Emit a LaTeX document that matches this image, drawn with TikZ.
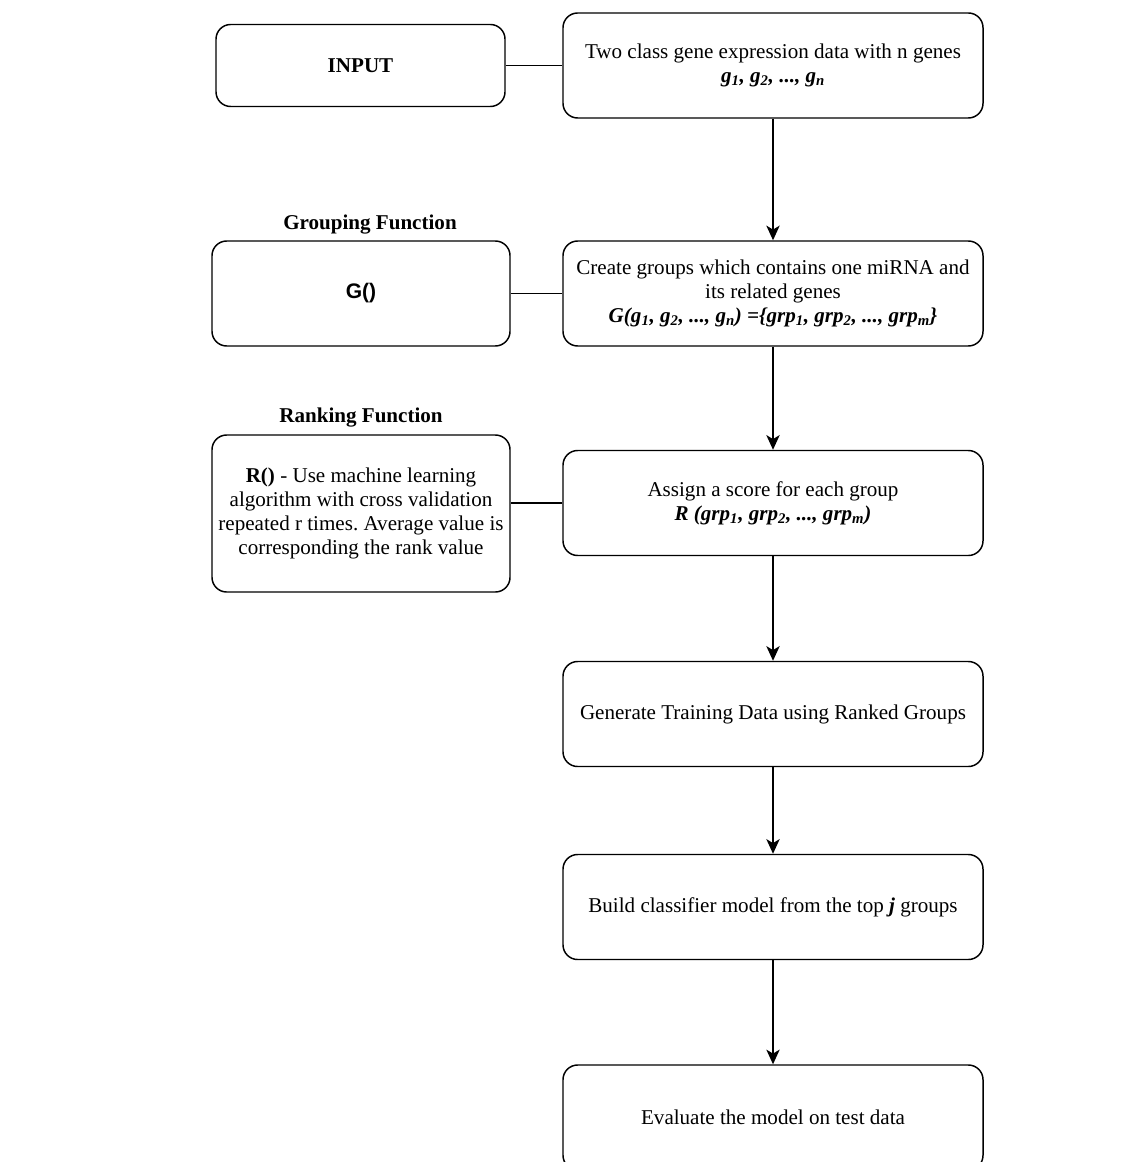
\documentclass[tikz,border=0pt]{standalone}
\usepackage{fontspec}
\setmainfont{Liberation Serif}
\newfontfamily\sansfn{Liberation Sans}
\usetikzlibrary{arrows.meta}
\frenchspacing

\begin{document}
\begin{tikzpicture}[x=0.75pt,y=-0.75pt,>={Stealth[length=11pt,width=10pt,inset=3pt]},
  every node/.style={font=\fontsize{15.8}{18.2}\selectfont},
  box/.style={draw,line width=1.1pt,rounded corners=11pt,align=center,
    minimum width=315pt,minimum height=78.75pt,inner sep=2pt},
  sidebox/.style={box,minimum width=223.5pt},
  title/.style={font=\fontsize{15.8}{18.2}\selectfont\bfseries}]
  \useasboundingbox (0,0) rectangle (1121,1162);
  \node[sidebox,minimum width=216.75pt,minimum height=61.5pt] (input) at (360.5,65.5) {\textbf{INPUT}};
  \node[box] (data) at (773,65.5) {Two class gene expression data with n genes\\
    {\bfseries\itshape g\textsubscript{1}, g\textsubscript{2}, ..., g\textsubscript{n}}};
  \node[title] (gtitle) at (370,225) {Grouping Function};
  \node[sidebox] (gfun) at (361,293.5) {\sansfn\bfseries G()};
  \node[box] (create) at (773,293.5) {Create groups which contains one miRNA and\\its related genes\\
    {\bfseries\itshape G(g\textsubscript{1}, g\textsubscript{2}, ..., g\textsubscript{n}) =\{grp\textsubscript{1}, grp\textsubscript{2}, ..., grp\textsubscript{m}\}}};
  \node[title] (rtitle) at (361,418) {Ranking Function};
  \node[sidebox,minimum height=117.75pt] (rfun) at (361,513.5) {\textbf{R()} - Use machine learning\\
    algorithm with cross validation\\repeated r times. Average value is\\corresponding the rank value};
  \node[box] (assign) at (773,503) {Assign a score for each group\\
    {\bfseries\itshape R (grp\textsubscript{1}, grp\textsubscript{2}, ..., grp\textsubscript{m})}};
  \node[box] (gen) at (773,714) {Generate Training Data using Ranked Groups};
  \node[box] (build) at (773,907) {Build classifier model from the top {\bfseries\itshape j} groups};
  \node[box] (eval) at (773,1117.5) {Evaluate the model on test data};
  \draw[line width=1.1pt] (input) -- (data);
  \draw[line width=1.1pt] (gfun) -- (create);
  \draw[line width=1.1pt] (assign.west) -- (assign.west -| rfun.east);
  \draw[->,line width=1.1pt] (data) -- (create);
  \draw[->,line width=1.1pt] (create) -- (assign);
  \draw[->,line width=1.1pt] (assign) -- (gen);
  \draw[->,line width=1.1pt] (gen) -- (build);
  \draw[->,line width=1.1pt] (build) -- (eval);
\end{tikzpicture}
\end{document}
